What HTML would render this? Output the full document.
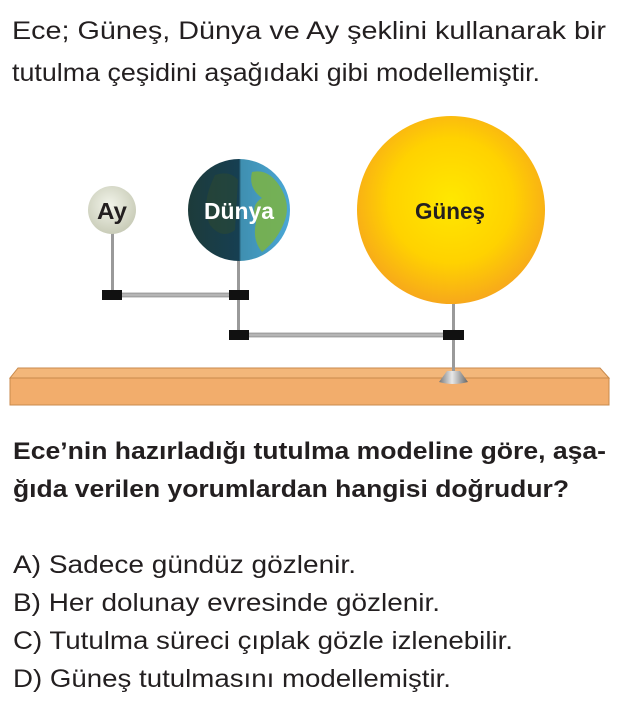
<!DOCTYPE html>
<html><head><meta charset="utf-8"><style>
html,body{margin:0;padding:0;background:#fff}
svg{display:block}
text{font-family:"Liberation Sans",Arial,sans-serif;fill:#231f20}
</style></head><body>
<svg width="619" height="718" viewBox="0 0 619 718" xmlns="http://www.w3.org/2000/svg">
<defs>
<radialGradient id="sun" cx="0.5" cy="0.45" r="0.55">
<stop offset="0" stop-color="#ffe800"/><stop offset="0.6" stop-color="#ffd200"/><stop offset="1" stop-color="#f7a81b"/>
</radialGradient>
<radialGradient id="moon" cx="0.45" cy="0.4" r="0.6">
<stop offset="0" stop-color="#f2f4ea"/><stop offset="1" stop-color="#c9ccb8"/>
</radialGradient>
<linearGradient id="earth" x1="0" y1="0" x2="1" y2="0">
<stop offset="0" stop-color="#1d3b3a"/><stop offset="0.5" stop-color="#163f52"/><stop offset="0.52" stop-color="#3f8fb0"/><stop offset="1" stop-color="#4aa7d6"/>
</linearGradient>
<linearGradient id="base" x1="0" y1="0" x2="1" y2="0">
<stop offset="0" stop-color="#777"/><stop offset="0.45" stop-color="#e8e8e8"/><stop offset="1" stop-color="#666"/>
</linearGradient>
</defs>

<text x="12" y="39" font-size="25" textLength="594" lengthAdjust="spacingAndGlyphs">Ece; Güneş, Dünya ve Ay şeklini kullanarak bir</text>
<text x="12" y="81" font-size="25" textLength="528" lengthAdjust="spacingAndGlyphs">tutulma çeşidini aşağıdaki gibi modellemiştir.</text>

<!-- board -->
<polygon points="18,368 600,368 609,378 10,378" fill="#f3b77a" stroke="#c88a4c" stroke-width="1"/>
<rect x="10" y="378" width="599" height="27" fill="#f2ad6c" stroke="#c88a4c" stroke-width="1"/>

<!-- rods -->
<rect x="111" y="232" width="3" height="64" fill="#9a9a9a"/>
<rect x="237" y="258" width="3" height="78" fill="#9a9a9a"/>
<rect x="452" y="300" width="3" height="72" fill="#9a9a9a"/>
<rect x="120" y="293" width="110" height="4" fill="#b5b5b5" stroke="#777" stroke-width="0.6"/>
<rect x="246" y="333" width="200" height="4" fill="#b5b5b5" stroke="#777" stroke-width="0.6"/>
<rect x="102" y="290" width="20" height="10" fill="#111"/>
<rect x="229" y="290" width="20" height="10" fill="#111"/>
<rect x="229" y="330" width="20" height="10" fill="#111"/>
<rect x="443" y="330" width="21" height="10" fill="#111"/>
<path d="M447,371 L460,371 L468,382 Q453,386 439,382 Z" fill="url(#base)"/>

<!-- moon -->
<circle cx="112" cy="210" r="24" fill="url(#moon)"/>
<text x="112" y="219" font-size="23" font-weight="bold" text-anchor="middle" textLength="30" lengthAdjust="spacingAndGlyphs">Ay</text>

<!-- earth -->
<circle cx="239" cy="210" r="51" fill="url(#earth)"/>
<path d="M252,172 Q270,168 282,190 Q290,205 285,220 Q278,240 262,252 Q252,240 256,222 Q250,205 262,198 Q248,188 252,172 Z" fill="#7cb342" opacity="0.85"/>
<path d="M215,175 Q230,170 238,180 L235,230 Q222,240 210,225 Q200,205 215,175 Z" fill="#2d4a2e" opacity="0.5"/>
<text x="239" y="219" font-size="23" font-weight="bold" text-anchor="middle" style="fill:#fff" textLength="70" lengthAdjust="spacingAndGlyphs">Dünya</text>

<!-- sun -->
<circle cx="451" cy="210" r="94" fill="url(#sun)"/>
<text x="450" y="219" font-size="23" font-weight="bold" text-anchor="middle" textLength="70" lengthAdjust="spacingAndGlyphs">Güneş</text>

<text x="13" y="459" font-size="24" font-weight="bold" textLength="593" lengthAdjust="spacingAndGlyphs">Ece’nin hazırladığı tutulma modeline göre, aşa-</text>
<text x="13" y="497" font-size="24" font-weight="bold" textLength="556" lengthAdjust="spacingAndGlyphs">ğıda verilen yorumlardan hangisi doğrudur?</text>

<text x="13" y="573" font-size="25" textLength="343" lengthAdjust="spacingAndGlyphs">A) Sadece gündüz gözlenir.</text>
<text x="13" y="611" font-size="25" textLength="427" lengthAdjust="spacingAndGlyphs">B) Her dolunay evresinde gözlenir.</text>
<text x="13" y="649" font-size="25" textLength="500" lengthAdjust="spacingAndGlyphs">C) Tutulma süreci çıplak gözle izlenebilir.</text>
<text x="13" y="687" font-size="25" textLength="438" lengthAdjust="spacingAndGlyphs">D) Güneş tutulmasını modellemiştir.</text>
</svg>
</body></html>
